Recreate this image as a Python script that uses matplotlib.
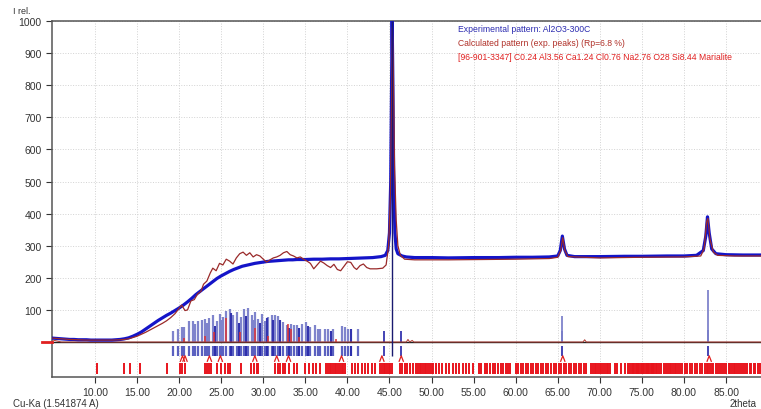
import numpy as np
import matplotlib.pyplot as plt
from matplotlib.lines import Line2D

plt.rcParams['font.family'] = ['Liberation Sans', 'DejaVu Sans']

# experimental pattern (2theta, I rel.)
exp_x = [5.0, 5.5, 6.0, 6.5, 7.0, 7.5, 8.0, 8.5, 9.0, 9.5, 10.0, 10.5, 11.0, 11.5, 12.0, 12.5,
         13.0, 13.5, 14.0, 14.5, 15.0, 15.5, 16.0, 16.5, 17.0, 17.5, 18.0, 18.5, 19.0, 19.5,
         20.0, 20.5, 21.0, 21.5, 22.0, 22.5, 23.0, 23.5, 24.0, 24.5, 25.0, 25.5, 26.0, 26.5,
         27.0, 27.5, 28.0, 28.5, 29.0, 29.5, 30.0, 30.5, 31.0, 31.5, 32.0, 32.5, 33.0, 33.5,
         34.0, 35.0, 36.0, 37.0, 38.0, 39.0, 40.0, 41.0, 42.0, 43.0, 44.0, 44.5, 44.8, 45.0,
         45.15, 45.25, 45.32, 45.4, 45.5, 45.65, 45.8, 46.0, 46.5, 47.0, 48.0, 50.0, 52.0,
         55.0, 58.0, 60.0, 62.0, 64.0, 65.0, 65.3, 65.55, 65.8, 66.1, 67.0, 70.0, 73.0, 75.0,
         78.0, 80.0, 81.5, 82.3, 82.6, 82.8, 83.0, 83.3, 83.8, 85.0, 87.0, 89.2]
exp_y = [12, 11, 10, 9, 8, 8, 7, 7, 7, 6, 6, 6, 6, 6, 6, 7,
         8, 10, 13, 18, 24, 31, 40, 49, 58, 67, 75, 83, 90, 98,
         106, 115, 125, 136, 148, 158, 168, 178, 188, 198, 206, 213, 220, 226,
         231, 236, 239, 242, 245, 247, 249, 251, 252, 253, 254, 255, 256, 256,
         257, 257, 258, 258, 259, 259, 260, 261, 262, 263, 266, 270, 285, 340,
         500, 800, 1000, 820, 520, 340, 290, 275, 268, 265, 263, 263, 262,
         263, 263, 264, 264, 265, 268, 285, 330, 290, 270, 266, 266, 267, 267,
         268, 268, 270, 285, 330, 390, 340, 290, 275, 272, 271, 271]

# calculated pattern
calc_x = [5, 6, 7, 8, 9, 10, 11, 12, 13, 13.5, 14, 14.5, 15, 15.5, 16, 16.5, 17, 17.5, 18,
          18.5, 19, 19.5, 20, 20.3, 20.7, 21.0, 21.4, 21.8, 22.2, 22.6, 22.9, 23.3, 23.7,
          24.0, 24.4, 24.8, 25.2, 25.6, 26.0, 26.4, 26.8, 27.2, 27.6, 28.0, 28.4, 28.8,
          29.2, 29.6, 30.0, 30.4, 30.8, 31.2, 31.6, 32.0, 32.4, 32.8, 33.2, 33.6, 34.0,
          34.4, 34.8, 35.2, 35.6, 36.0, 36.4, 36.8, 37.2, 37.6, 38.0, 38.4, 38.8, 39.2,
          39.6, 40.0, 40.4, 40.8, 41.1, 41.5, 41.9, 42.3, 42.7, 43.5, 44.2, 44.6, 44.9,
          45.1, 45.25, 45.35, 45.45, 45.6, 45.8, 46.0, 46.3, 46.8, 48, 52, 56, 60, 64, 65,
          65.35, 65.6, 65.85, 66.2, 70, 75, 80, 82, 82.4, 82.7, 82.85, 83.1, 83.5, 84, 86,
          89.2]
calc_y = [12, 10, 8, 7, 6, 6, 6, 6, 7, 8, 10, 14, 18, 24, 30, 37, 44, 51, 58,
          66, 76, 88, 105, 115, 98, 100, 128, 132, 150, 158, 180, 190, 215,
          230, 222, 245, 240, 258, 252, 243, 262, 275, 280, 270, 278, 265,
          272, 268, 258, 249, 256, 262, 265, 270, 278, 282, 272, 268, 262,
          265, 258, 252, 245, 228, 240, 252, 246, 238, 232, 242, 226, 222,
          236, 250, 248, 232, 226, 238, 243, 232, 228, 228, 230, 240, 300,
          450, 750, 980, 850, 550, 380, 300, 270, 258, 256, 256, 257, 258, 260, 264,
          285, 325, 285, 266, 262, 264, 265, 268, 290, 375, 385, 320, 280, 270, 268,
          268]

# difference curve
diff_x = [5, 6, 47.0, 47.2, 47.4, 47.7, 47.9, 68.0, 68.2, 68.4, 89.2]
diff_y = [6, 0, 0, 8, 0, 5, 0, 0, 7, 0, 0]

# peak markers (light blue, dark blue)
stick_x = [19.31, 19.82, 20.30, 20.58, 21.21, 21.69, 21.9, 22.28, 22.68, 23.07, 23.3, 23.59,
           24.06, 24.3, 24.46, 24.86, 25.0, 25.25, 25.57, 26.05, 26.2, 26.44, 26.91, 27.1,
           27.32, 27.75, 28.0, 28.22, 28.63, 28.8, 29.02, 29.41, 29.6, 29.81, 30.21, 30.4,
           30.60, 31.00, 31.2, 31.40, 31.79, 32.0, 32.38, 32.78, 33.0, 33.26, 33.65, 34.05,
           34.3, 34.56, 35.08, 35.3, 35.56, 36.15, 36.5, 36.74, 37.34, 37.73, 38.0, 38.33,
           39.32, 39.72, 40.04, 40.4, 41.30]
stick_h = [35, 42, 46, 46, 64, 67, 55, 67, 70, 72, 60, 74,
           83, 50, 67, 88, 70, 78, 96, 104, 90, 83, 93, 60,
           78, 104, 80, 106, 83, 70, 93, 72, 60, 88, 67, 75,
           78, 85, 70, 83, 81, 68, 62, 52, 45, 57, 52, 52,
           45, 57, 62, 50, 46, 52, 40, 41, 39, 42, 35, 42,
           49, 46, 42, 40, 41]
dark_x = [24.3, 26.2, 27.1, 28.0, 29.6, 30.4, 31.2, 32.0, 33.0, 34.3, 35.3, 38.0, 40.4,
          44.3, 46.4, 65.5, 82.85]
dark_h = [50, 90, 60, 80, 60, 75, 70, 68, 45, 45, 50, 35, 40,
          34, 34, 35, 36]
light_x = [65.5, 82.85]
light_h = [81, 162]
main_x = 45.3

# calculated phase lines
red_stick_x = [20.6, 23.1, 24.2, 25.6, 27.2, 29.0, 30.6, 32.9, 33.3, 34.3, 38.7]
red_stick_h = [12, 20, 30, 75, 30, 45, 20, 55, 40, 15, 8]
peak_mark_x = [20.4, 20.7, 23.6, 24.9, 29.0, 31.6, 33.0, 39.3, 44.1, 46.4, 65.6, 83.0]

# [96-901-3347] Marialite positions
phase_x = [10.2, 13.5, 14.2, 15.35, 18.5, 20.1, 20.4, 20.7, 23.1, 23.3, 23.55, 23.8, 24.5,
           24.95, 25.5, 25.8, 26.0, 27.4, 28.6, 28.9, 29.2, 29.4, 31.4, 31.7, 32.0, 32.3,
           32.6, 33.0, 33.6, 34.0, 35.0, 35.4, 35.9, 36.3, 36.8, 37.5, 37.7, 37.9, 38.1,
           38.3, 38.5, 38.7, 38.9, 39.1, 39.3, 39.5, 39.7, 40.5, 40.9, 41.3, 41.7, 42.1,
           42.5, 42.9, 43.3, 43.9, 44.1, 44.3, 44.5, 44.7, 44.9, 45.1, 45.25, 46.2, 46.45,
           46.8, 47.1, 47.5, 47.8, 48.2, 48.4, 48.6, 48.8, 49.0, 49.2, 49.4, 49.6, 49.8,
           50.0, 50.2, 50.5, 50.9, 51.3, 51.7, 52.1, 52.5, 52.9, 53.3, 53.7, 54.1, 54.5,
           54.9, 55.6, 55.9, 56.3, 56.6, 57.0, 57.3, 57.6, 57.9, 58.2, 58.5, 58.8, 59.1,
           59.3, 60.0, 60.3, 60.6, 60.9, 61.2, 61.5, 61.8, 62.1, 62.4, 62.7, 63.0, 63.3,
           63.6, 63.9, 64.2, 64.5, 64.8, 65.1, 65.4, 65.7, 66.0, 66.3, 66.6, 66.9, 67.2,
           67.5, 67.8, 68.1, 68.4, 69.0, 69.2, 69.4, 69.6, 69.8, 70.0, 70.2, 70.4, 70.6,
           70.8, 71.0, 71.2, 71.8, 72.1, 72.5, 73.0, 73.4, 73.6, 73.8, 73.95, 74.1, 74.25,
           74.4, 74.55, 74.7, 74.85, 75.0, 75.15, 75.3, 75.45, 75.6, 75.75, 75.9, 76.05,
           76.2, 76.35, 76.5, 76.65, 76.8, 77.0, 77.3, 77.6, 77.9, 78.1, 78.3, 78.5, 78.7,
           78.9, 79.1, 79.3, 79.5, 79.8, 80.1, 80.4, 80.7, 81.0, 81.3, 81.6, 81.9, 82.2,
           82.5, 82.7, 82.9, 83.1, 83.3, 83.5, 83.8, 84.0, 84.3, 84.5, 84.8, 85.0, 85.3,
           85.5, 85.7, 85.9, 86.1, 86.3, 86.5, 86.8, 87.0, 87.3, 87.5, 87.8, 88.0, 88.3,
           88.5, 88.8, 89.0]

x_ticks = [10, 15, 20, 25, 30, 35, 40, 45, 50, 55, 60, 65, 70, 75, 80, 85]
y_ticks = [100, 200, 300, 400, 500, 600, 700, 800, 900, 1000]

W, H = 761, 410
fig = plt.figure(figsize=(W / 100, H / 100), dpi=100)
ax = fig.add_axes([52 / W, (H - 378) / H, (W - 52) / W, (378 - 22) / H])
ax.set_xlim(4.89, 89.16)
ax.set_ylim(-109, 1000)

ax.set_xticks(x_ticks)
ax.set_xticklabels([f"{t:.2f}" for t in x_ticks])
ax.set_yticks(y_ticks)
ax.tick_params(labelsize=7.5, colors='#333333', length=4, width=0.8)
ax.grid(True, color='#d2d2d2', linestyle=':', linewidth=0.7)
for s in ['left', 'bottom', 'top']:
    ax.spines[s].set_color('#555555')
    ax.spines[s].set_linewidth(1.1)
ax.spines['right'].set_visible(False)

# zero line, difference curve
ax.axhline(0, color='#222222', lw=1.0, zorder=2)
ax.plot(diff_x, diff_y, color='#b03a30', lw=0.7, zorder=3)

# sticks above / below zero
ax.vlines(stick_x, 0, stick_h, color='#7f84cc', lw=1.6, zorder=2)
ax.vlines(dark_x, 0, dark_h, color='#2424a8', lw=1.2, zorder=2)
ax.vlines(light_x, 0, light_h, color='#7f84cc', lw=1.3, zorder=2)
ax.vlines(red_stick_x, 0, red_stick_h, color='#e03030', lw=1.1, zorder=2)
ax.vlines(stick_x, -12, -45, color='#5a60c0', lw=1.6, zorder=2)
ax.vlines(dark_x, -12, -45, color='#2424a8', lw=1.2, zorder=2)
ax.vlines([main_x], -45, 1000, color='#1a1a70', lw=1.0, zorder=5)
for p in peak_mark_x:
    ax.plot([p - 0.25, p, p + 0.25], [-60, -43, -60], color='#e02020', lw=0.9, zorder=3)
ax.vlines(phase_x, -65, -100, color='#e8141c', lw=1.4, zorder=2)

# patterns
ax.plot(exp_x, exp_y, color='#1414c8', lw=2.3, zorder=4)
ax.plot(calc_x, calc_y, color='#9a2a2a', lw=0.9, zorder=4)

# left red zero marker
fig.add_artist(Line2D([42 / W, 52 / W], [(H - 343) / H] * 2, color='#e02020', lw=2))

fig.text(13 / W, 1 - 11 / H, "I rel.", fontsize=6.5, color='#333333', va='center')
fig.text(13 / W, 1 - 404 / H, "Cu-Ka (1.541874 A)", fontsize=7, color='#333333', va='center')
fig.text(757 / W, 1 - 404 / H, "2theta", fontsize=7, color='#333333', va='center', ha='right')

fig.text(458 / W, 1 - 30 / H, "Experimental pattern: Al2O3-300C", fontsize=6.2,
         color='#2b2bb0', va='center')
fig.text(458 / W, 1 - 44 / H, "Calculated pattern (exp. peaks) (Rp=6.8 %)", fontsize=6.2,
         color='#b03028', va='center')
fig.text(458 / W, 1 - 57 / H, "[96-901-3347] C0.24 Al3.56 Ca1.24 Cl0.76 Na2.76 O28 Si8.44 Marialite",
         fontsize=6.2, color='#e02020', va='center')

fig.savefig("out.png", dpi=100)
